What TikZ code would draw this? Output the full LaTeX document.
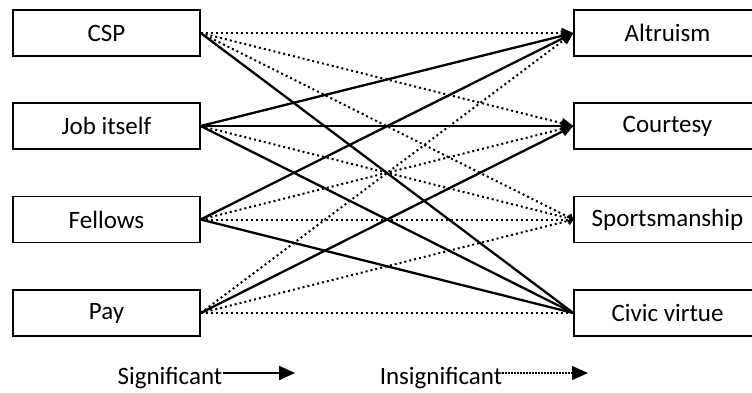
\documentclass[tikz,border=0pt]{standalone}
\usepackage{fontspec}
\setmainfont{Carlito}
\usetikzlibrary{arrows.meta}
\begin{document}
\begin{tikzpicture}[x=1pt,y=-1pt,
  box/.style={draw,line width=1.4pt,minimum width=187pt,minimum height=46pt,inner sep=0pt,font=\fontsize{25}{30}\selectfont},
  lbl/.style={inner sep=0pt,font=\fontsize{25}{30}\selectfont},
  sig/.style={line width=2.3pt},
  ins/.style={line width=2pt,dash pattern=on 2pt off 3pt},
  tipA/.style={-{Triangle[length=12pt,width=10pt]}},
  tipS/.style={-{Straight Barb[length=4pt,width=8pt,line width=1.2pt]}},
  tipL/.style={-{Triangle[length=16pt,width=14pt]}}
]
\useasboundingbox (0,0) rectangle (752,392);
\clip (0,0) rectangle (752,392);

\node[box] (csp) at (106.5,33) {CSP};
\node[box] (job) at (106.5,126) {Job itself};
\node[box] (fel) at (106.5,219.5) {Fellows};
\node[box] (pay) at (106.5,313) {Pay};

\node[box] (alt) at (667.5,33) {Altruism};
\node[box] (cou) at (667.5,126) {Courtesy};
\node[box] (spo) at (667.5,219.5) {Sportsmanship};
\node[box] (civ) at (667.5,313) {Civic virtue};

% CSP
\draw[ins,tipA] (csp.east) -- (alt.west);
\draw[ins,tipA] (csp.east) -- (cou.west);
\draw[ins,tipS] (csp.east) -- (spo.west);
\draw[sig] (csp.east) -- (civ.west);
% Job itself
\draw[sig,tipA] (job.east) -- (alt.west);
\draw[sig,tipA] (job.east) -- (cou.west);
\draw[ins,tipS] (job.east) -- (spo.west);
\draw[sig] (job.east) -- (civ.west);
% Fellows
\draw[sig,tipA] (fel.east) -- (alt.west);
\draw[ins,tipA] (fel.east) -- (cou.west);
\draw[ins,tipS] (fel.east) -- (spo.west);
\draw[sig] (fel.east) -- (civ.west);
% Pay
\draw[ins,tipA] (pay.east) -- (alt.west);
\draw[sig,tipA] (pay.east) -- (cou.west);
\draw[ins,tipS] (pay.east) -- (spo.west);
\draw[ins] (pay.east) -- (civ.west);

% Legend
\node[lbl,anchor=base] (sigl) at (170,384) {Significant};
\coordinate (sige) at (295,373);
\draw[sig,tipL] ([yshift=11pt]sigl.base east) -- (sige);
\node[lbl,anchor=base] (insl) at (441,384) {Insignificant};
\coordinate (inse) at (588,373);
\draw[line width=1.2pt,dash pattern=on 1.2pt off 1.8pt,tipL] ([yshift=11pt]insl.base east) -- (inse);
\end{tikzpicture}
\end{document}
